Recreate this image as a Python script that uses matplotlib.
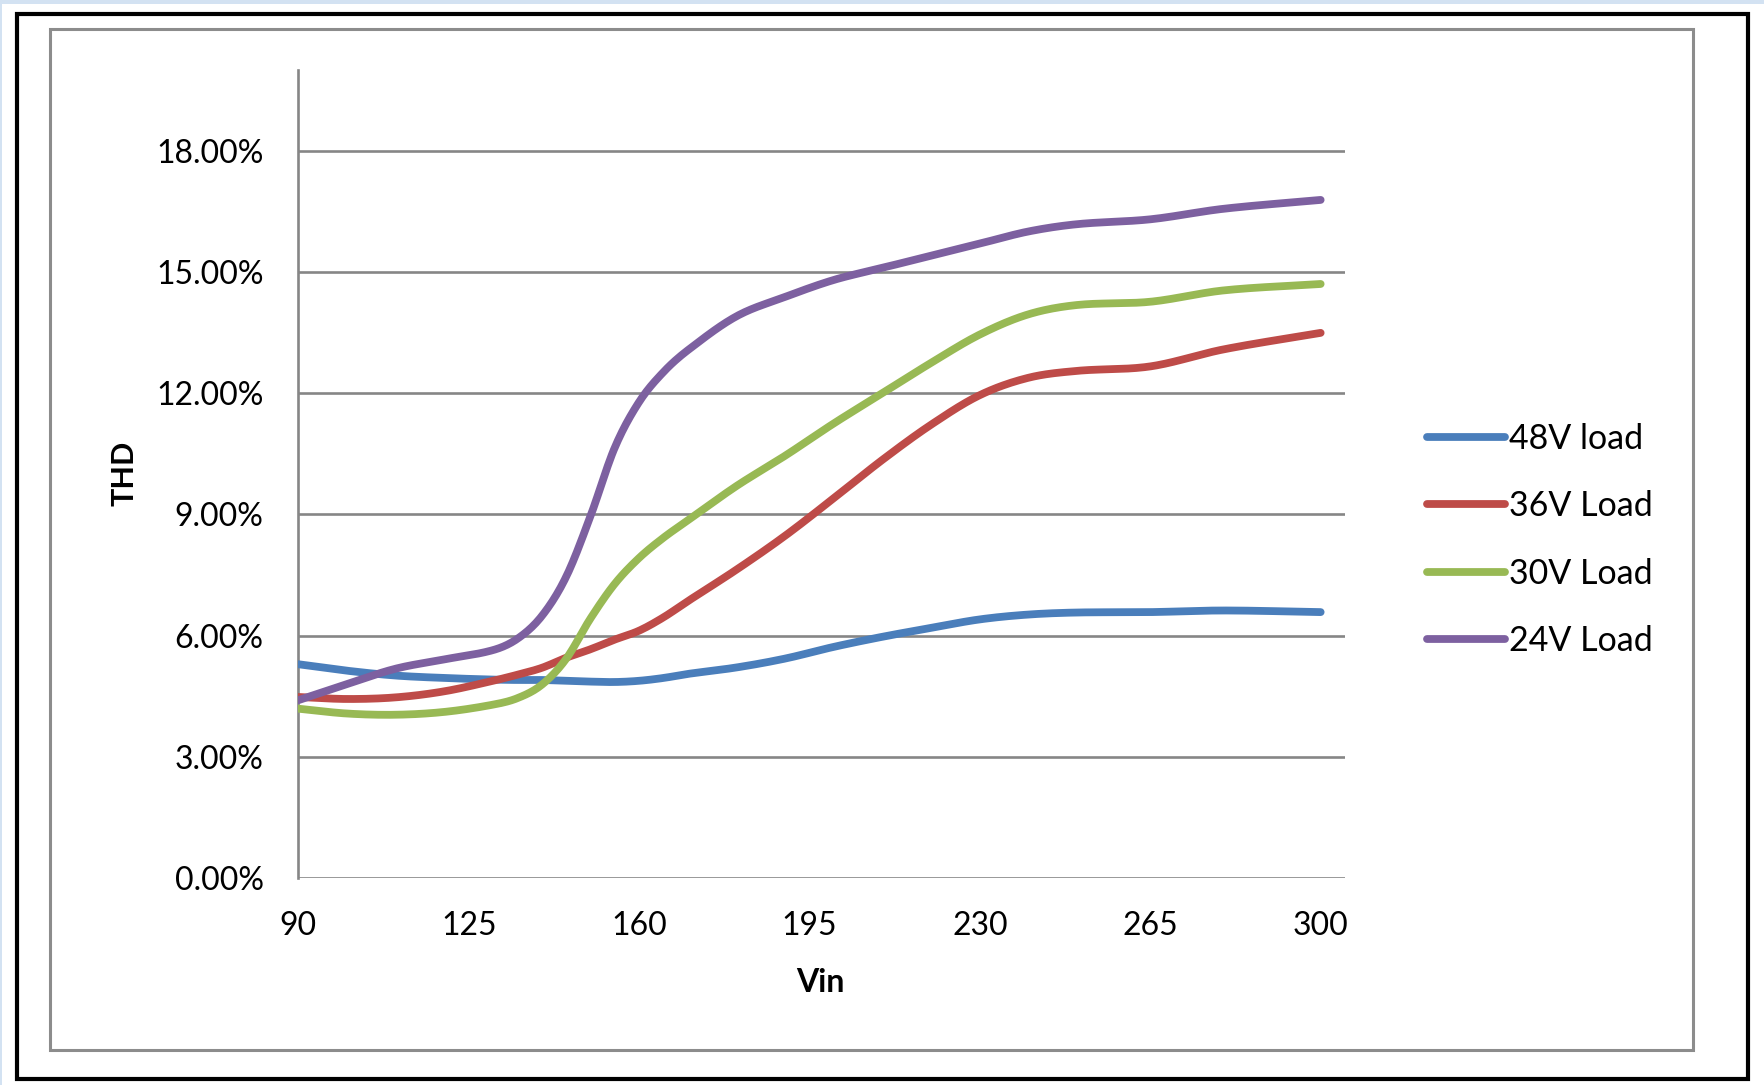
import numpy as np
import matplotlib
matplotlib.use("Agg")
import matplotlib.pyplot as plt
from matplotlib.patches import Rectangle
from matplotlib.ticker import FuncFormatter

# Input voltage (V) and measured THD (%) for each load
vin = [90, 100, 110, 120, 130, 135, 140, 145, 150, 155, 160, 165, 170, 180,
       190, 200, 210, 220, 230, 240, 250, 265, 280, 300]
thd_48v = [5.29, 5.13, 5.01, 4.95, 4.91, 4.90, 4.90, 4.88, 4.86, 4.85, 4.88,
           4.95, 5.05, 5.21, 5.43, 5.72, 5.97, 6.19, 6.40, 6.52, 6.57, 6.58,
           6.62, 6.58]
thd_36v = [4.48, 4.43, 4.47, 4.62, 4.88, 5.03, 5.20, 5.45, 5.66, 5.90, 6.12,
           6.45, 6.85, 7.63, 8.47, 9.40, 10.35, 11.22, 11.95, 12.38, 12.55,
           12.66, 13.08, 13.49]
thd_30v = [4.19, 4.07, 4.04, 4.11, 4.29, 4.45, 4.78, 5.42, 6.42, 7.28, 7.92,
           8.42, 8.85, 9.70, 10.45, 11.25, 12.00, 12.75, 13.45, 13.95, 14.18,
           14.26, 14.54, 14.70]
thd_24v = [4.40, 4.80, 5.18, 5.41, 5.64, 5.92, 6.48, 7.45, 8.95, 10.65, 11.78,
           12.52, 13.06, 13.90, 14.38, 14.80, 15.10, 15.40, 15.70, 16.00, 16.18,
           16.30, 16.56, 16.78]

series_labels = ["48V load", "36V Load", "30V Load", "24V Load"]
series_colors = ["#4A7EBB", "#BE4B48", "#98B954", "#7D60A0"]
x_ticks = [90, 125, 160, 195, 230, 265, 300]
y_ticks = [0, 3, 6, 9, 12, 15, 18]


def smooth(x, y, n=500):
    """Cardinal (Catmull-Rom style) cubic curve through the points."""
    x = np.asarray(x, float)
    y = np.asarray(y, float)
    h = np.diff(x)
    m = np.empty_like(y)
    m[1:-1] = (y[2:] - y[:-2]) / (x[2:] - x[:-2])
    m[0] = (y[1] - y[0]) / h[0]
    m[-1] = (y[-1] - y[-2]) / h[-1]
    xs = np.linspace(x[0], x[-1], n)
    idx = np.clip(np.searchsorted(x, xs) - 1, 0, len(x) - 2)
    t = (xs - x[idx]) / h[idx]
    h00 = 2 * t**3 - 3 * t**2 + 1
    h10 = t**3 - 2 * t**2 + t
    h01 = -2 * t**3 + 3 * t**2
    h11 = t**3 - t**2
    ys = (h00 * y[idx] + h10 * h[idx] * m[idx]
          + h01 * y[idx + 1] + h11 * h[idx] * m[idx + 1])
    return xs, ys


plt.rcParams["font.family"] = ["Lato", "DejaVu Sans"]

W, H = 1765, 1085
fig = plt.figure(figsize=(W / 100, H / 100), dpi=100)
fig.patch.set_facecolor("white")

# Outer frames
fig.add_artist(Rectangle((0, 1 - 4 / H), 1, 4 / H, transform=fig.transFigure,
                         facecolor="#d3e2f2", edgecolor="none"))
fig.add_artist(Rectangle((0, 0), 2 / W, 1, transform=fig.transFigure,
                         facecolor="#d3e2f2", edgecolor="none"))
fig.add_artist(Rectangle((17 / W, 1 - 1079 / H), (1748 - 17) / W, (1079 - 14) / H,
                         transform=fig.transFigure, fill=False,
                         edgecolor="black", linewidth=3.0))
fig.add_artist(Rectangle((50 / W, 1 - 1050 / H), (1693 - 50) / W, (1050 - 29) / H,
                         transform=fig.transFigure, fill=False,
                         edgecolor="#8c8c8c", linewidth=2.2))

left, right = 298.3 / W, 1345 / W
bottom, top = 1 - 878 / H, 1 - 69.8 / H
ax = fig.add_axes([left, bottom, right - left, top - bottom])
ax.set_xlim(90, 305)
ax.set_ylim(0, 20)

grid_color = "#868686"
for yt in y_ticks:
    ax.axhline(yt, color=grid_color, linewidth=1.9, zorder=1)
for side in ["top", "right", "bottom"]:
    ax.spines[side].set_visible(False)
ax.spines["left"].set_color(grid_color)
ax.spines["left"].set_linewidth(1.9)

for vals, lab, col in zip([thd_48v, thd_36v, thd_30v, thd_24v],
                          series_labels, series_colors):
    xs, ys = smooth(vin, vals)
    ax.plot(xs, ys, color=col, linewidth=5.6, solid_capstyle="round",
            label=lab, zorder=3)

ax.set_xticks(x_ticks)
ax.set_yticks(y_ticks)
ax.yaxis.set_major_formatter(FuncFormatter(lambda v, p: f"{v:.2f}%"))
ax.tick_params(axis="both", length=0, labelsize=23, colors="black")
ax.tick_params(axis="y", pad=25)
ax.tick_params(axis="x", pad=24)

fig.text(125 / W, 1 - 473 / H, "THD", rotation=90, fontsize=22,
         fontweight="bold", ha="center", va="center")
fig.text(820.6 / W, 1 - 982.7 / H, "Vin", fontsize=23,
         fontweight="bold", ha="center", va="center")

leg = ax.legend(loc="upper left", bbox_to_anchor=(1427 / W, 1 - 423 / H),
                bbox_transform=fig.transFigure, frameon=False, fontsize=24.5,
                handlelength=2.3, handletextpad=0.1, labelspacing=1.04,
                borderpad=0, borderaxespad=0)
for line in leg.get_lines():
    line.set_linewidth(5.6)
    line.set_solid_capstyle("round")

fig.savefig("out.png", dpi=100, facecolor="white")
